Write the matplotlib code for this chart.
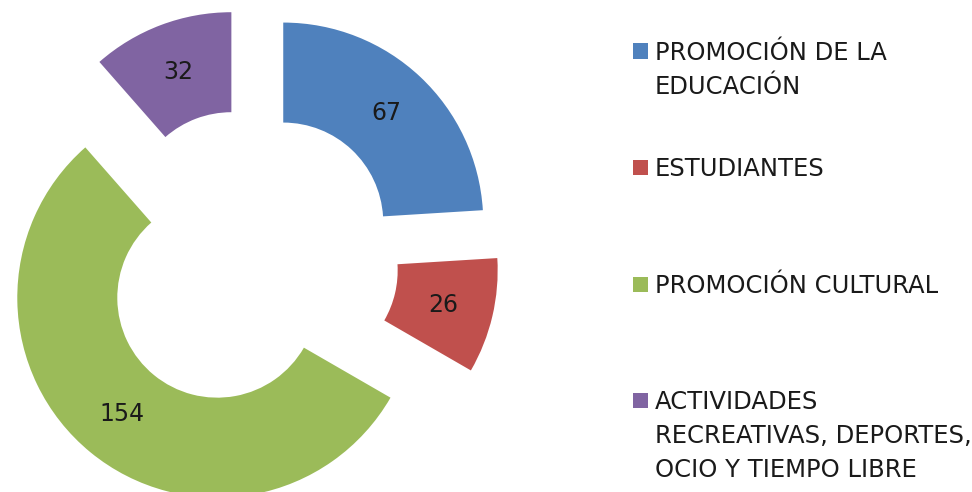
import matplotlib.pyplot as plt
from matplotlib.patches import Rectangle

# data
categories = ["PROMOCIÓN DE LA\nEDUCACIÓN", "ESTUDIANTES", "PROMOCIÓN CULTURAL",
              "ACTIVIDADES\nRECREATIVAS, DEPORTES,\nOCIO Y TIEMPO LIBRE"]
values = [67, 26, 154, 32]
colors = ["#4F81BD", "#C0504D", "#9BBB59", "#8064A2"]

W, H = 972, 492
R = 200.0          # outer radius in pixels
cx, cy = 249, 492 - 259


def main():
    fig = plt.figure(figsize=(W / 100, H / 100), dpi=100)
    ax = fig.add_axes([0, 0, 1, 1])
    ax.pie(values, colors=colors, startangle=90, counterclock=False,
           explode=[0.25] * len(values), radius=1,
           wedgeprops=dict(width=0.5, linewidth=0),
           autopct=lambda p: "%d" % round(p * sum(values) / 100),
           pctdistance=0.75,
           textprops=dict(fontsize=17, color="#1a1a1a", family="DejaVu Sans"))
    ax.set_xlim(-cx / R, (W - cx) / R)
    ax.set_ylim(-cy / R, (H - cy) / R)
    ax.set_aspect("auto")
    ax.axis("off")

    # hand-placed legend (baseline of first line, in pixels from top)
    baselines = [60, 176, 293, 409]
    step = 34
    sq = 15
    for lab, col, b in zip(categories, colors, baselines):
        fig.patches.append(Rectangle(((640 - sq / 2) / W, 1 - (b - 9 + sq / 2) / H),
                                     sq / W, sq / H, transform=fig.transFigure,
                                     facecolor=col, edgecolor="none"))
        for i, line in enumerate(lab.split("\n")):
            fig.text(655 / W, 1 - (b + i * step) / H, line, fontsize=17.5,
                     family="DejaVu Sans", color="#1a1a1a",
                     va="baseline", ha="left")

    fig.savefig("out.png", dpi=100, facecolor="white")


if __name__ == "__main__":
    main()
